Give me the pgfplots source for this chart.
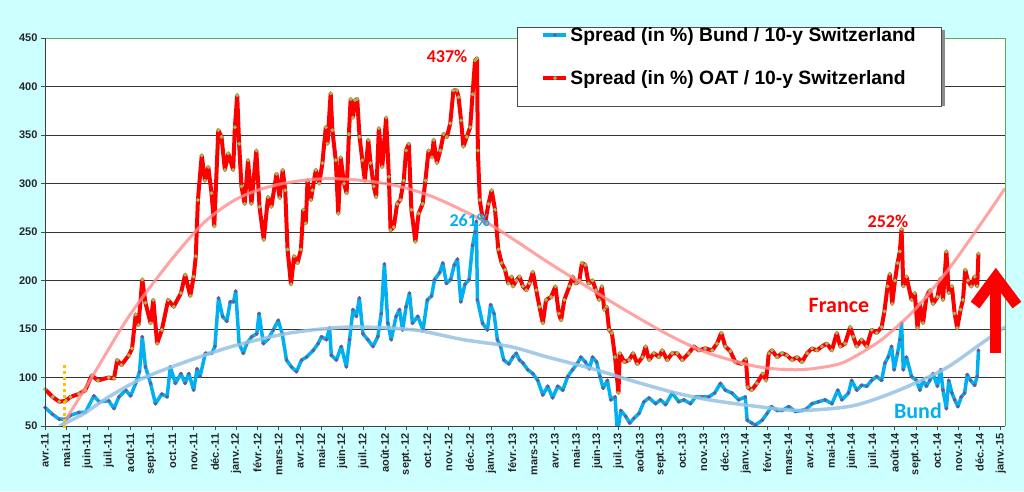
\documentclass[border=0pt]{standalone}
\usepackage{fontspec}
\setmainfont{Liberation Sans}
\newfontfamily\calib{Carlito}
\usepackage{pgfplots}
\pgfplotsset{compat=1.18}
\definecolor{bg}{RGB}{204,255,255}
\definecolor{bundc}{RGB}{0,176,240}
\definecolor{bundm}{RGB}{112,88,140}
\definecolor{oatc}{RGB}{255,0,0}
\definecolor{oatm}{RGB}{155,187,89}
\definecolor{rtrend}{RGB}{255,140,140}
\definecolor{btrend}{RGB}{150,195,230}
\definecolor{orng}{RGB}{255,192,0}
\definecolor{frm}{RGB}{90,170,90}
\begin{document}
\begin{tikzpicture}[x=1pt,y=1pt]
\fill[bg] (0,0) rectangle (1024,491);
\useasboundingbox (0,0) rectangle (1024,491);
\begin{axis}[
 at={(45pt,65pt)}, anchor=south west, scale only axis, width=960pt, height=388pt,
 xmin=0, xmax=45.2, ymin=50, ymax=450,
 axis background/.style={fill=white},
 axis line style={draw=none},
 clip mode=individual,
 ytick={50,100,...,450},
 xtick={0,...,45},
 xticklabels={avr.-11,mai-11,juin-11,juil.-11,août-11,sept.-11,oct.-11,nov.-11,déc.-11,janv.-12,févr.-12,mars-12,avr.-12,mai-12,juin-12,juil.-12,août-12,sept.-12,oct.-12,nov.-12,déc.-12,janv.-13,févr.-13,mars-13,avr.-13,mai-13,juin-13,juil.-13,août-13,sept.-13,oct.-13,nov.-13,déc.-13,janv.-14,févr.-14,mars-14,avr.-14,mai-14,juin-14,juil.-14,août-14,sept.-14,oct.-14,nov.-14,déc.-14,janv.-15},
 tick pos=left, tick align=outside, major tick length=4pt,
 tick style={black!70, line width=0.6pt},
 ymajorgrids, grid style={black!80, line width=0.8pt},
 yticklabel style={font=\fontsize{11}{11}\selectfont\bfseries, /pgf/number format/assume math mode=true, text=black!85},
 xticklabel style={font=\fontsize{11}{11}\selectfont\bfseries, rotate=90, anchor=east, text=black!85},
 legend style={at={(0.4917,1.0284)}, anchor=north west, draw=black!70, line width=0.8pt, fill=white,
   font=\fontsize{19.3}{19.3}\selectfont\bfseries, inner xsep=24pt, inner ysep=6pt, row sep=19pt,
   nodes={text height=4pt, text depth=14pt}},
 legend cell align=left,
 legend image code/.code={\draw[mark repeat=2,mark phase=2,#1,yshift=11pt] plot coordinates {(0pt,0pt)(11.5pt,0pt)(23pt,0pt)};},
]
% legend shadow
\fill[black!45] (rel axis cs:0.4948,1.0206) rectangle (rel axis cs:0.9375,0.8247);
% Bund
\addplot[color=bundc, line width=3.5pt, line join=round, mark=*, mark size=1.7pt, mark options={fill=bundm, draw=bundm, line width=0.3pt}] coordinates {
(0,69)(0.36,62)(0.67,57)(0.98,57)(1.2,61)(1.6,64)(1.9,64)(2.3,81)(2.55,75)(3.0,76)(3.25,68)(3.48,80)(3.8,87)(4.03,81)(4.27,94)(4.45,106)(4.58,142)(4.73,111)(4.97,94)(5.2,73)(5.5,83)(5.75,80)(5.9,111)(6.14,94)(6.4,104)(6.6,94)(6.77,104)(7.0,87)(7.16,109)(7.3,101)(7.55,125)(7.86,125)(8.0,132)(8.17,182)(8.36,163)(8.56,158)(8.72,178)(8.88,178)(8.98,189)(9.14,135)(9.34,125)(9.5,135)(9.73,142)(9.97,145)(10.08,166)(10.28,135)(10.52,140)(10.75,149)(10.98,159)(11.17,145)(11.37,118)(11.6,111)(11.84,106)(12.08,118)(12.31,121)(12.63,128)(12.86,135)(13.02,142)(13.25,139)(13.4,151)(13.48,123)(13.72,118)(13.95,132)(14.19,111)(14.34,139)(14.5,170)(14.66,163)(14.8,182)(14.97,145)(15.2,139)(15.44,132)(15.67,142)(15.83,166)(15.98,217)(16.14,156)(16.3,139)(16.53,163)(16.69,170)(16.84,149)(17.0,173)(17.16,187)(17.3,156)(17.55,163)(17.8,149)(18.0,180)(18.2,184)(18.34,201)(18.58,208)(18.73,218)(18.9,197)(19.1,201)(19.27,216)(19.42,222)(19.58,178)(19.77,196)(19.97,201)(20.13,236)(20.25,250)(20.31,261)(20.36,180)(20.6,156)(20.83,149)(20.98,175)(21.14,166)(21.3,139)(21.45,132)(21.6,118)(21.84,114)(22.03,121)(22.19,125)(22.34,118)(22.5,115)(22.73,108)(22.97,104)(23.2,97)(23.44,82)(23.67,91)(23.9,79)(24.14,91)(24.38,87)(24.61,101)(24.84,108)(25.08,115)(25.23,121)(25.44,116)(25.63,109)(25.78,121)(25.97,116)(26.13,101)(26.28,89)(26.48,97)(26.64,77)(26.84,80)(26.95,42)(27.11,66)(27.34,60)(27.53,53)(27.73,58)(27.97,63)(28.2,75)(28.44,79)(28.75,73)(28.98,77)(29.22,72)(29.53,84)(29.84,75)(30.08,77)(30.39,73)(30.63,80)(30.94,80)(31.25,80)(31.53,84)(31.8,94)(32.03,87)(32.34,84)(32.66,77)(32.97,80)(33.06,56)(33.28,53)(33.45,51)(33.77,56)(34.0,63)(34.2,70)(34.47,66)(34.7,66)(35.02,70)(35.33,65)(35.64,66)(35.88,68)(36.11,73)(36.42,75)(36.73,77)(37.05,73)(37.33,87)(37.52,77)(37.83,84)(37.98,97)(38.22,87)(38.45,92)(38.69,91)(38.92,97)(39.16,101)(39.39,97)(39.55,115)(39.7,121)(39.86,132)(39.98,108)(40.14,125)(40.25,139)(40.33,156)(40.41,108)(40.56,121)(40.8,101)(41.03,97)(41.19,87)(41.34,97)(41.5,91)(41.66,97)(41.81,104)(42.02,91)(42.17,108)(42.28,87)(42.44,68)(42.55,97)(42.7,84)(42.83,77)(42.98,70)(43.14,80)(43.3,84)(43.42,103)(43.58,97)(43.77,92)(43.89,101)(43.95,128)};
\addlegendentry{Spread (in \%) Bund / 10-y Switzerland}
% OAT
\addplot[color=oatc, line width=4pt, line join=round, mark=*, mark size=1.8pt, mark options={fill=oatm, draw=oatm, line width=0.3pt}] coordinates {
(0,88)(0.36,80)(0.67,75)(0.98,76)(1.2,80)(1.6,83)(1.9,87)(2.2,102)(2.5,97)(3.0,100)(3.25,99)(3.4,118)(3.6,113)(3.95,123)(4.1,130)(4.27,165)(4.4,154)(4.58,201)(4.73,177)(4.97,156)(5.1,180)(5.28,135)(5.5,149)(5.8,180)(6.06,173)(6.4,187)(6.6,206)(6.84,184)(7.0,204)(7.1,225)(7.2,283)(7.38,329)(7.53,303)(7.69,317)(7.84,290)(7.97,256)(8.16,355)(8.31,348)(8.47,314)(8.63,331)(8.86,314)(8.94,358)(9.05,391)(9.14,341)(9.25,297)(9.4,279)(9.56,324)(9.72,279)(9.95,334)(10.1,276)(10.3,242)(10.5,286)(10.66,276)(10.9,310)(11.05,285)(11.19,314)(11.31,293)(11.42,232)(11.58,196)(11.73,225)(11.89,218)(12.05,232)(12.16,273)(12.28,259)(12.36,303)(12.52,283)(12.59,293)(12.75,314)(12.91,300)(13.06,321)(13.22,358)(13.3,341)(13.45,393)(13.53,355)(13.69,324)(13.81,269)(13.92,327)(14.08,300)(14.2,290)(14.31,351)(14.39,387)(14.5,368)(14.59,386)(14.7,387)(14.81,348)(14.94,324)(15.06,303)(15.22,345)(15.33,321)(15.48,297)(15.59,286)(15.72,357)(15.88,317)(16.06,368)(16.19,307)(16.27,252)(16.42,255)(16.58,279)(16.73,283)(16.89,303)(17.0,334)(17.13,341)(17.25,273)(17.44,240)(17.59,269)(17.78,279)(17.91,303)(18.06,334)(18.22,327)(18.3,345)(18.45,321)(18.61,334)(18.77,351)(18.92,348)(19.08,362)(19.23,396)(19.39,396)(19.47,389)(19.59,365)(19.7,338)(19.86,348)(20.02,358)(20.13,392)(20.25,427)(20.34,429)(20.38,334)(20.47,283)(20.59,266)(20.72,259)(20.88,279)(21.03,293)(21.19,273)(21.34,232)(21.5,218)(21.66,211)(21.81,197)(21.97,204)(22.03,194)(22.19,200)(22.34,204)(22.5,194)(22.66,190)(22.81,197)(22.97,209)(23.13,190)(23.28,173)(23.44,156)(23.59,180)(23.83,183)(24.03,194)(24.19,166)(24.3,159)(24.45,180)(24.69,194)(24.84,204)(25.0,197)(25.16,200)(25.28,218)(25.44,216)(25.59,197)(25.78,200)(25.94,190)(26.09,180)(26.22,194)(26.33,170)(26.44,173)(26.56,149)(26.69,146)(26.84,121)(27.0,84)(27.06,125)(27.27,116)(27.5,118)(27.69,125)(27.89,114)(28.13,121)(28.28,132)(28.44,118)(28.67,125)(28.91,121)(29.06,128)(29.3,118)(29.53,125)(29.77,125)(30.0,118)(30.31,125)(30.55,132)(30.78,128)(31.09,130)(31.41,128)(31.64,135)(31.84,146)(32.03,132)(32.27,127)(32.5,116)(32.81,114)(33.0,119)(33.09,90)(33.28,87)(33.52,94)(33.8,104)(33.95,97)(34.08,125)(34.23,128)(34.47,121)(34.7,125)(34.94,123)(35.17,118)(35.41,121)(35.64,116)(35.88,125)(36.11,130)(36.34,128)(36.58,132)(36.81,135)(37.05,128)(37.28,146)(37.44,132)(37.67,135)(37.91,152)(38.06,142)(38.22,132)(38.45,139)(38.69,132)(38.92,149)(39.16,146)(39.39,152)(39.52,168)(39.67,194)(39.78,207)(39.89,176)(40.02,200)(40.14,218)(40.25,230)(40.33,253)(40.41,194)(40.56,204)(40.8,180)(40.95,187)(41.08,151)(41.19,176)(41.34,156)(41.5,183)(41.66,190)(41.81,176)(42.02,183)(42.17,202)(42.28,180)(42.44,230)(42.55,187)(42.7,194)(42.83,166)(42.95,151)(43.11,170)(43.22,180)(43.33,211)(43.45,200)(43.61,194)(43.77,204)(43.89,194)(43.95,228)};
\addlegendentry{Spread (in \%) OAT / 10-y Switzerland}
% trends
\addplot[forget plot, smooth, color=rtrend, line width=3pt, opacity=0.8] coordinates {
(0.8,50)(2.2,100)(3.95,163)(5.9,220)(7.5,260)(8.86,282)(10,293)(11.2,300)(12.5,304)(13.6,305)(15.0,303)(16.5,298)(18.3,286)(20.6,262)(21.88,245)(23.67,219)(25.78,190)(27.58,166)(29.53,142)(31.25,125)(33.59,111)(35.48,108)(37.0,112)(37.83,118)(39.39,139)(40.95,170)(42.52,211)(44.08,259)(45.2,295)};
\addplot[forget plot, smooth, color=btrend, line width=3.5pt, opacity=0.85] coordinates {
(0.67,50)(1.77,62)(3.0,80)(4.58,99)(6.6,116)(8.8,132)(11.3,145)(13.5,151)(15.0,152)(17.4,149)(19.7,139)(21.88,132)(23.67,121)(25.78,109)(27.58,97)(29.53,85)(31.25,77)(33.59,70)(35.48,66)(37.83,70)(39.39,80)(40.95,94)(42.52,111)(44.08,135)(45.2,152)};
% frame
\draw[frm, line width=0.8pt] (rel axis cs:0,1) -- (rel axis cs:1,1) -- (rel axis cs:1,0);
\draw[black!75, line width=0.8pt] (rel axis cs:0,1) -- (rel axis cs:0,0) -- (rel axis cs:1,0);
% annotations
\draw[orng, line width=3pt, dash pattern=on 3pt off 3pt] (axis cs:0.92,113) -- (axis cs:0.92,46);
\node[text=oatc, font=\calib\fontsize{18}{18}\selectfont\bfseries] at (axis cs:18.93,431.4) {437\%};
\node[text=bundc, font=\calib\fontsize{18}{18}\selectfont\bfseries] at (axis cs:20.0,262.4) {261\%};
\node[text=oatc, font=\calib\fontsize{18}{18}\selectfont\bfseries] at (axis cs:39.69,261.3) {252\%};
\node[text=oatc, font=\calib\fontsize{22}{22}\selectfont\bfseries] at (axis cs:37.38,174.7) {France};
\node[text=bundc, font=\calib\fontsize{22}{22}\selectfont\bfseries] at (axis cs:41.1,65.5) {Bund};
\draw[oatc, line width=11pt] (axis cs:44.77,125.3) -- (axis cs:44.77,196);
\draw[oatc, line width=11pt, line join=miter] (axis cs:43.79,174.7) -- (axis cs:44.77,203.6) -- (axis cs:45.76,174.7);
\end{axis}
\end{tikzpicture}
\end{document}
